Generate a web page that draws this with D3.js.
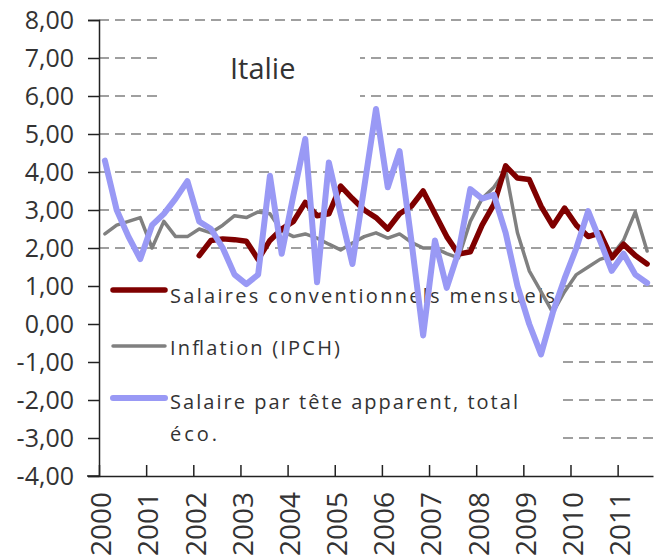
<!DOCTYPE html>
<html>
<head>
<meta charset="utf-8">
<script src="https://cdn.jsdelivr.net/npm/d3@7"></script>
<style>
  body { margin: 0; background: #fff; }
  text { font-family: "Open Sans", sans-serif; fill: #333; }
</style>
</head>
<body>
<svg id="chart" width="655" height="559"></svg>
<script>
// tick labels
var years = [2000, 2001, 2002, 2003, 2004, 2005, 2006, 2007, 2008, 2009, 2010, 2011];
var yTicks = [-4, -3, -2, -1, 0, 1, 2, 3, 4, 5, 6, 7, 8];

// quarterly series, 2000T1 .. 2011T3
var salairesConv = [null, null, null, null, null, null, null, null,
  1.80, 2.20, 2.24, 2.22, 2.18, 1.70, 2.20, 2.50,
  2.70, 3.20, 2.85, 2.90, 3.63, 3.30, 3.00, 2.80,
  2.50, 2.90, 3.10, 3.50, 2.90, 2.30, 1.84, 1.90,
  2.60, 3.15, 4.16, 3.84, 3.80, 3.10, 2.58, 3.05,
  2.60, 2.30, 2.40, 1.74, 2.10, 1.80, 1.58];
var inflation = [2.37, 2.60, 2.70, 2.80, 2.00, 2.70, 2.30, 2.30,
  2.50, 2.40, 2.60, 2.85, 2.80, 2.95, 2.90, 2.45,
  2.30, 2.37, 2.26, 2.10, 1.95, 2.13, 2.30, 2.40,
  2.26, 2.37, 2.15, 2.00, 2.00, 1.85, 1.74, 2.70,
  3.30, 3.60, 4.05, 2.40, 1.40, 0.85, 0.30, 0.85,
  1.30, 1.50, 1.70, 1.80, 2.20, 2.95, 1.92];
var salaireTete = [4.30, 3.00, 2.30, 1.71, 2.60, 2.90, 3.30, 3.76,
  2.70, 2.50, 2.00, 1.30, 1.05, 1.30, 3.90, 1.85,
  3.40, 4.87, 1.10, 4.25, 2.90, 1.58, 3.60, 5.66,
  3.60, 4.55, 2.20, -0.30, 2.20, 0.95, 1.90, 3.55,
  3.30, 3.40, 2.40, 1.00, 0.00, -0.80, 0.30, 1.20,
  2.00, 2.97, 2.20, 1.40, 1.85, 1.30, 1.08];

var series = [
  {name: "Salaires conventionnels mensuels", values: salairesConv, color: "#7f0000", width: 5.5},
  {name: "Inflation (IPCH)", values: inflation, color: "#808080", width: 3.5},
  {name: "Salaire par tête apparent, total", values: salaireTete, color: "#9999f5", width: 6}
];

var svg = d3.select("#chart");

var x = d3.scaleLinear().domain([2000, 2011.75]).range([99, 653]);
var y = d3.scaleLinear().domain([-4, 8]).range([476, 20]);

function qx(i) { return x(2000 + (i + 0.5) / 4); }

// gridlines
svg.append("g").selectAll("line")
  .data(yTicks.filter(function(d) { return d > -4; }))
  .enter().append("line")
  .attr("x1", x(2000)).attr("x2", x(2011.75))
  .attr("y1", function(d) { return y(d); })
  .attr("y2", function(d) { return y(d); })
  .attr("stroke", "#808080")
  .attr("stroke-width", 1.5)
  .attr("stroke-dasharray", "10,6");

// title box covering gridlines
svg.append("rect").attr("x", 157).attr("y", 38).attr("width", 203).attr("height", 74).attr("fill", "#fff");
svg.append("text").attr("x", 230).attr("y", 79).attr("font-size", 29).text("Italie");

// legend box
var lg = svg.append("g");
lg.append("rect").attr("x", 100).attr("y", 262).attr("width", 463).attr("height", 200).attr("fill", "#fff");
var legendRows = [
  {s: series[0], sy: 290, lines: [{t: "Salaires conventionnels mensuels", y: 303, w: 385}]},
  {s: series[1], sy: 346, lines: [{t: "Inflation (IPCH)", y: 355, w: 170}]},
  {s: series[2], sy: 398, lines: [{t: "Salaire par tête apparent, total", y: 409, w: 348}, {t: "éco.", y: 441, w: 47}]}
];
legendRows.forEach(function(r) {
  lg.append("line")
    .attr("x1", 113).attr("x2", 165)
    .attr("y1", r.sy).attr("y2", r.sy)
    .attr("stroke", r.s.color)
    .attr("stroke-width", r.s.width)
    .attr("stroke-linecap", "round");
  r.lines.forEach(function(l) {
    lg.append("text")
      .attr("x", 170).attr("y", l.y)
      .attr("font-size", 20)
      .attr("textLength", l.w)
      .attr("lengthAdjust", "spacing")
      .text(l.t);
  });
});

// axes
var yAxis = svg.append("g").attr("transform", "translate(" + x(2000) + ",0)")
  .call(d3.axisLeft(y).tickValues(yTicks).tickSize(11).tickPadding(14)
    .tickFormat(function(d) { return d3.format(".2f")(d).replace(".", ",").replace("−", "-"); }));
yAxis.select(".domain").attr("stroke", "#222").attr("stroke-width", 1.5);
yAxis.selectAll(".tick line").attr("stroke", "#222").attr("stroke-width", 1.5);
yAxis.selectAll(".tick text").attr("font-size", 25).attr("font-family", "Open Sans").attr("fill", "#333");

var xAxis = svg.append("g").attr("transform", "translate(0," + y(-4) + ")")
  .call(d3.axisBottom(x).tickValues(years).tickSize(-11).tickSizeOuter(0).tickFormat(d3.format("d")));
xAxis.select(".domain").attr("stroke", "#222").attr("stroke-width", 1.5);
xAxis.selectAll(".tick line").attr("stroke", "#222").attr("stroke-width", 1.5);
xAxis.selectAll(".tick text")
  .attr("font-size", 28).attr("font-family", "Open Sans").attr("fill", "#333")
  .attr("text-anchor", "end")
  .attr("transform", "translate(2,16) rotate(-90)")
  .attr("x", 0).attr("y", 0).attr("dy", "0.35em");
svg.append("line").attr("x1", 87).attr("x2", 99).attr("y1", y(-4)).attr("y2", y(-4))
  .attr("stroke", "#222").attr("stroke-width", 1.5);

// series lines
var line = d3.line()
  .defined(function(d) { return d != null; })
  .x(function(d, i) { return qx(i); })
  .y(function(d) { return y(d); });

svg.append("g").selectAll("path")
  .data([series[1], series[0], series[2]])
  .enter().append("path")
  .attr("fill", "none")
  .attr("stroke", function(d) { return d.color; })
  .attr("stroke-width", function(d) { return d.width; })
  .attr("stroke-linejoin", "round")
  .attr("stroke-linecap", "round")
  .attr("d", function(d) { return line(d.values); });
</script>
</body>
</html>
